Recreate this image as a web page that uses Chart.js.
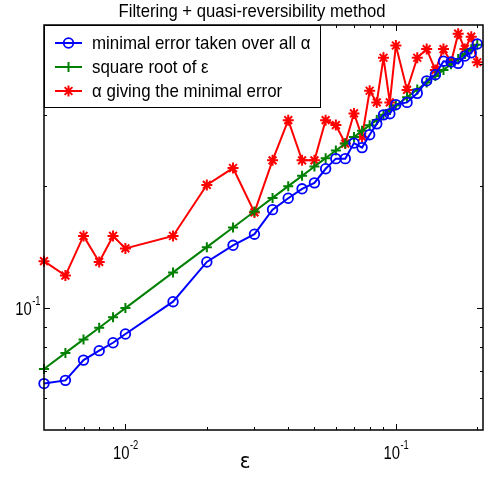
<!DOCTYPE html>
<html>
<head>
<meta charset="utf-8">
<script src="https://cdn.jsdelivr.net/npm/chart.js@4/dist/chart.umd.min.js"></script>
<style>
html, body { margin: 0; padding: 0; background: #fff; }
</style>
</head>
<body>
<canvas id="grafico" width="497" height="477"></canvas>
<script>
// epsilon values (x axis)
const eps = [0.005, 0.006, 0.007, 0.008, 0.009, 0.01, 0.015, 0.02, 0.025,
  0.03, 0.035, 0.04, 0.045, 0.05, 0.055, 0.06, 0.065, 0.07, 0.075, 0.08,
  0.085, 0.09, 0.095, 0.1, 0.11, 0.12, 0.13, 0.14, 0.15, 0.16, 0.17, 0.18, 0.19, 0.2];

const minError = [0.0651, 0.0663, 0.0744, 0.0785, 0.0821, 0.0863, 0.1037, 0.130, 0.1429,
  0.1522, 0.175, 0.1867, 0.197, 0.2038, 0.2208, 0.2339, 0.2339, 0.2555, 0.249, 0.268,
  0.285, 0.300, 0.302, 0.318, 0.322, 0.339, 0.364, 0.377, 0.407, 0.405, 0.402, 0.419, 0.427, 0.449];

const sqrtEps = [0.0707, 0.0775, 0.0837, 0.0894, 0.0949, 0.1, 0.1225, 0.1414, 0.1581,
  0.1732, 0.1871, 0.2, 0.2121, 0.2236, 0.2345, 0.2449, 0.255, 0.2646, 0.2739, 0.2828,
  0.2915, 0.3, 0.3082, 0.3162, 0.3317, 0.3464, 0.3606, 0.3742, 0.3873, 0.4, 0.4123, 0.4243, 0.4359, 0.4472];

const bestAlpha = [0.1306, 0.1203, 0.1507, 0.130, 0.1507, 0.1404, 0.1507, 0.2014, 0.2217,
  0.1723, 0.2316, 0.2911, 0.2316, 0.2316, 0.2911, 0.283, 0.2548, 0.3025, 0.2648, 0.344,
  0.322, 0.415, 0.322, 0.445, 0.3457, 0.415, 0.436, 0.387, 0.436, 0.4046, 0.476, 0.4365, 0.468, 0.4046];

const xMajor = [0.01, 0.1];
const xMinor = [0.006, 0.007, 0.008, 0.009, 0.02, 0.03, 0.04, 0.05, 0.06, 0.07, 0.08, 0.09, 0.2];
const yMajor = [0.1];
const yMinor = [0.06, 0.07, 0.08, 0.09, 0.2, 0.3, 0.4];
const xTickLabels = ["10^-2", "10^-1"];
const yTickLabels = ["10^-1"];

const titre = "Filtering + quasi-reversibility method";
const xLabel = "\u03b5";
const nomes = ["minimal error taken over all \u03b1", "square root of \u03b5", "\u03b1 giving the minimal error"];

const FONTE = "'Liberation Sans', Arial, sans-serif";

function texto(ctx, s, x, y, size, align, sx, family) {
  ctx.save();
  ctx.font = size + "px " + (family || FONTE);
  ctx.translate(x, y);
  ctx.scale(sx, 1);
  ctx.textAlign = align || "left";
  ctx.textBaseline = "alphabetic";
  ctx.fillStyle = "#000";
  ctx.fillText(s, 0, 0);
  ctx.restore();
}

function largura(ctx, s, size, sx) {
  ctx.save();
  ctx.font = size + "px " + FONTE;
  let w = ctx.measureText(s).width * sx;
  ctx.restore();
  return w;
}

// "10^-2" style label
function potencia(ctx, lbl, x, y, align) {
  let [base, exp] = lbl.split("^");
  let wb = largura(ctx, base, 19, 0.78);
  let we = largura(ctx, exp, 12, 0.78);
  let left = align === "right" ? x - wb - we : x - (wb + we) / 2;
  texto(ctx, base, left, y, 19, "left", 0.78);
  texto(ctx, exp, left + wb + 0.5, y - 10, 12, "left", 0.78);
}

const moldura = {
  id: "moldura",
  afterDraw(chart) {
    const ctx = chart.ctx;
    const a = chart.chartArea;
    const xs = chart.scales.x, ys = chart.scales.y;

    ctx.save();
    ctx.strokeStyle = "#000";
    ctx.lineWidth = 1.5;
    ctx.strokeRect(a.left, a.top, a.right - a.left, a.bottom - a.top);

    // inner ticks on all four sides
    ctx.lineWidth = 1;
    ctx.beginPath();
    xMajor.concat(xMinor).forEach(v => {
      let len = xMajor.includes(v) ? 6 : 3;
      let px = Math.round(xs.getPixelForValue(v)) + 0.5;
      ctx.moveTo(px, a.bottom); ctx.lineTo(px, a.bottom - len);
      ctx.moveTo(px, a.top); ctx.lineTo(px, a.top + len);
    });
    yMajor.concat(yMinor).forEach(v => {
      let len = yMajor.includes(v) ? 6 : 3;
      let py = Math.round(ys.getPixelForValue(v)) + 0.5;
      ctx.moveTo(a.left, py); ctx.lineTo(a.left + len, py);
      ctx.moveTo(a.right, py); ctx.lineTo(a.right - len, py);
    });
    ctx.stroke();
    ctx.restore();

    xMajor.forEach((v, i) => potencia(ctx, xTickLabels[i], xs.getPixelForValue(v), a.bottom + 29, "center"));
    yMajor.forEach((v, i) => potencia(ctx, yTickLabels[i], a.left - 4, ys.getPixelForValue(v) + 7, "right"));

    texto(ctx, xLabel, 245, 468, 22, "center", 0.9, "'DejaVu Sans', sans-serif");
    texto(ctx, titre, 252, 17, 18.5, "center", 0.9);

    // legend box
    ctx.save();
    ctx.fillStyle = "#fff";
    ctx.strokeStyle = "#000";
    ctx.lineWidth = 1;
    ctx.fillRect(a.left, a.top, 276, 82);
    ctx.strokeRect(a.left + 0.5, a.top + 0.5, 276, 82);
    ctx.restore();

    chart.data.datasets.forEach((ds, i) => {
      let y = 43 + i * 24;
      ctx.save();
      ctx.strokeStyle = ds.borderColor;
      ctx.lineWidth = ds.borderWidth;
      ctx.beginPath();
      ctx.moveTo(55, y); ctx.lineTo(82, y);
      ctx.stroke();
      ctx.fillStyle = "rgba(0,0,0,0)";
      ctx.lineWidth = ds.pointBorderWidth;
      Chart.helpers.drawPoint(ctx, { pointStyle: ds.pointStyle, radius: ds.pointRadius, borderWidth: ds.pointBorderWidth, rotation: 0 }, 68.5, y);
      ctx.restore();
      texto(ctx, ds.label, 92, y + 6, 19, "left", 0.89);
    });
  }
};

const pontos = ys => eps.map((x, i) => ({ x: x, y: ys[i] }));

new Chart(document.getElementById("grafico"), {
  type: "line",
  data: {
    datasets: [{
      label: nomes[0],
      data: pontos(minError),
      borderColor: "#0000ff",
      backgroundColor: "rgba(0,0,0,0)",
      borderWidth: 2,
      pointStyle: "circle",
      pointRadius: 4.8,
      pointBorderWidth: 1.8,
      pointBackgroundColor: "rgba(0,0,0,0)",
      pointBorderColor: "#0000ff"
    }, {
      label: nomes[1],
      data: pontos(sqrtEps),
      borderColor: "#008000",
      backgroundColor: "rgba(0,0,0,0)",
      borderWidth: 2,
      pointStyle: "cross",
      pointRadius: 5,
      pointBorderWidth: 2,
      pointBorderColor: "#008000"
    }, {
      label: nomes[2],
      data: pontos(bestAlpha),
      borderColor: "#ff0000",
      backgroundColor: "rgba(0,0,0,0)",
      borderWidth: 2,
      pointStyle: "star",
      pointRadius: 5.5,
      pointBorderWidth: 2,
      pointBorderColor: "#ff0000"
    }]
  },
  options: {
    responsive: false,
    animation: false,
    devicePixelRatio: 1,
    clip: false,
    layout: { padding: { left: 44, right: 14, top: 25, bottom: 47 } },
    elements: { line: { tension: 0, fill: false } },
    scales: {
      x: { type: "logarithmic", min: 0.005, max: 0.21, display: false },
      y: { type: "logarithmic", min: 0.05, max: 0.5, display: false }
    },
    plugins: {
      legend: { display: false },
      title: { display: false },
      tooltip: { enabled: false }
    }
  },
  plugins: [moldura]
});
</script>
</body>
</html>
